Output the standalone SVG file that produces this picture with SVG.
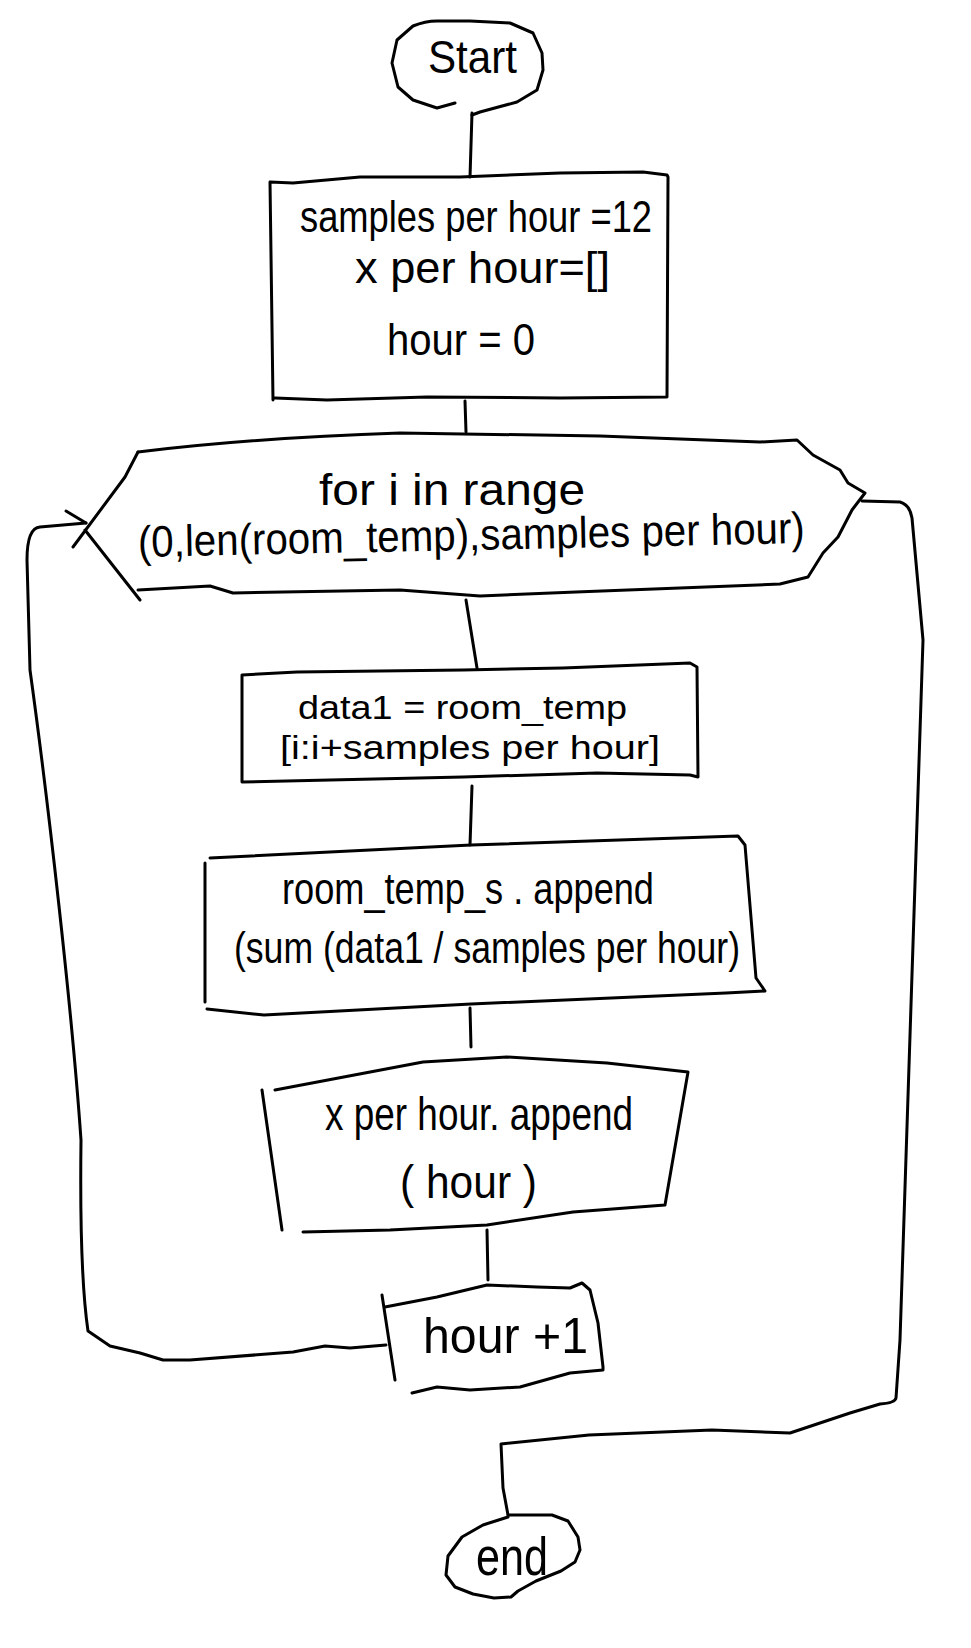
<svg xmlns="http://www.w3.org/2000/svg" width="971" height="1648" viewBox="0 0 971 1648">
<style>
.s{fill:none;stroke:#000;stroke-width:3;stroke-linecap:round;stroke-linejoin:round}
.t{font-family:"Liberation Sans",Arial,sans-serif;fill:#000}
</style>
<rect width="971" height="1648" fill="#fff"/>
<g id="connectors">
<path class="s" d="M472 113 L470 177"/>
<path class="s" d="M465 401 L466 432"/>
<path class="s" d="M466 600 L477 668"/>
<path class="s" d="M472 786 L470 845"/>
<path class="s" d="M470 1008 L471 1047"/>
<path class="s" d="M487 1230 L488 1280"/>
<path class="s" d="M386 1345 L350 1348 L325 1346 L293 1352 L190 1360 L163 1360 L140 1353 L110 1346 L88 1331 C82 1290 80 1220 81 1140 C72 1010 48 800 30 670 L27 560 Q27 528 40 527 L86 523"/>
<path class="s" d="M66 511 L86 523"/>
<path class="s" d="M862 501 L900 502 Q910 505 912 518 L923 640 L900 1340 L896 1398 Q895 1403 880 1404 L850 1413 L790 1433 L712 1430 L589 1435 L501 1444 L503 1488 L508 1515"/>
</g>
<g id="start">
<path class="s" d="M455 103 L437 108 L413 100 L398 87 L392 63 L397 40 L413 26 Q425 21 437 21 L470 21 L510 23 L533 33 L542 53 L543 70 L537 90 L517 102 L480 112 L472 115"/>
<text class="t" x="428" y="73" font-size="46" textLength="89" lengthAdjust="spacingAndGlyphs">Start</text>
</g>
<g id="init">
<path class="s" d="M270 182 L293 183 L360 177 L460 177 L560 173 L643 172 L667 175 L668 177 L667 397 L560 398 L427 397 L327 400 L275 398 M270 182 L273 400"/>
<text class="t" x="300" y="232" font-size="44" textLength="352" lengthAdjust="spacingAndGlyphs">samples per hour =12</text>
<text class="t" x="355" y="283" font-size="44" textLength="255" lengthAdjust="spacingAndGlyphs">x per hour=[]</text>
<text class="t" x="387" y="355" font-size="44" textLength="148" lengthAdjust="spacingAndGlyphs">hour = 0</text>
</g>
<g id="loop">
<path class="s" d="M138 452 Q250 438 400 433 L600 436 L760 442 L797 440 L813 455 L840 470 L848 483 L865 493 L852 510 L838 537 L823 553 L808 577 L780 584 L576 592 L480 596 L400 590 L233 593 L210 586 L138 590"/>
<path class="s" d="M138 452 L125 477 L73 547 M85 530 L140 600"/>
<text class="t" x="319" y="505" font-size="44" textLength="266" lengthAdjust="spacingAndGlyphs">for i in range</text>
<text class="t" x="138" y="550" font-size="44" textLength="667" lengthAdjust="spacingAndGlyphs" transform="rotate(-1.2 470 545)">(0,len(room_temp),samples per hour)</text>
</g>
<g id="data1">
<path class="s" d="M242 675 L297 672 L463 670 L563 668 L690 663 L697 667 L698 777 L690 775 L597 773 L463 777 L330 780 L242 782 Z"/>
<text class="t" x="298" y="719" font-size="34" textLength="329" lengthAdjust="spacingAndGlyphs">data1 = room_temp</text>
<text class="t" x="280" y="759" font-size="34" textLength="380" lengthAdjust="spacingAndGlyphs">[i:i+samples per hour]</text>
</g>
<g id="append-temp">
<path class="s" d="M210 858 L471 845 L738 836 L745 845 L756 978 L765 991 L726 993 L471 1004 L264 1015 L207 1009 M205 863 L205 1002"/>
<text class="t" x="282" y="904" font-size="44" textLength="372" lengthAdjust="spacingAndGlyphs">room_temp_s . append</text>
<text class="t" x="234" y="963" font-size="44" textLength="506" lengthAdjust="spacingAndGlyphs">(sum (data1 / samples per hour)</text>
</g>
<g id="append-hour">
<path class="s" d="M275 1090 L423 1062 L507 1057 L607 1063 L688 1072 L665 1205 L573 1212 L487 1225 L390 1230 L303 1232 M262 1090 L282 1230"/>
<text class="t" x="325" y="1130" font-size="46" textLength="308" lengthAdjust="spacingAndGlyphs">x per hour. append</text>
<text class="t" x="400" y="1198" font-size="46" textLength="137" lengthAdjust="spacingAndGlyphs">( hour )</text>
</g>
<g id="hour-inc">
<path class="s" d="M385 1307 L437 1297 L487 1285 L537 1287 L570 1288 L582 1283 L590 1290 L598 1323 L603 1367 L603 1370 L570 1373 L520 1387 L470 1390 L437 1387 L412 1393 M382 1295 L395 1380"/>
<text class="t" x="423" y="1353" font-size="50" textLength="165" lengthAdjust="spacingAndGlyphs">hour +1</text>
</g>
<g id="end">
<path class="s" d="M508 1515 L552 1515 L568 1521 L578 1537 L580 1550 L575 1562 L561 1571 L536 1581 L518 1591 L511 1597 L494 1598 L473 1594 L455 1587 L446 1575 L448 1556 L462 1537 L483 1525 L508 1517"/>
<text class="t" x="476" y="1575" font-size="54" textLength="72" lengthAdjust="spacingAndGlyphs">end</text>
</g>
</svg>
